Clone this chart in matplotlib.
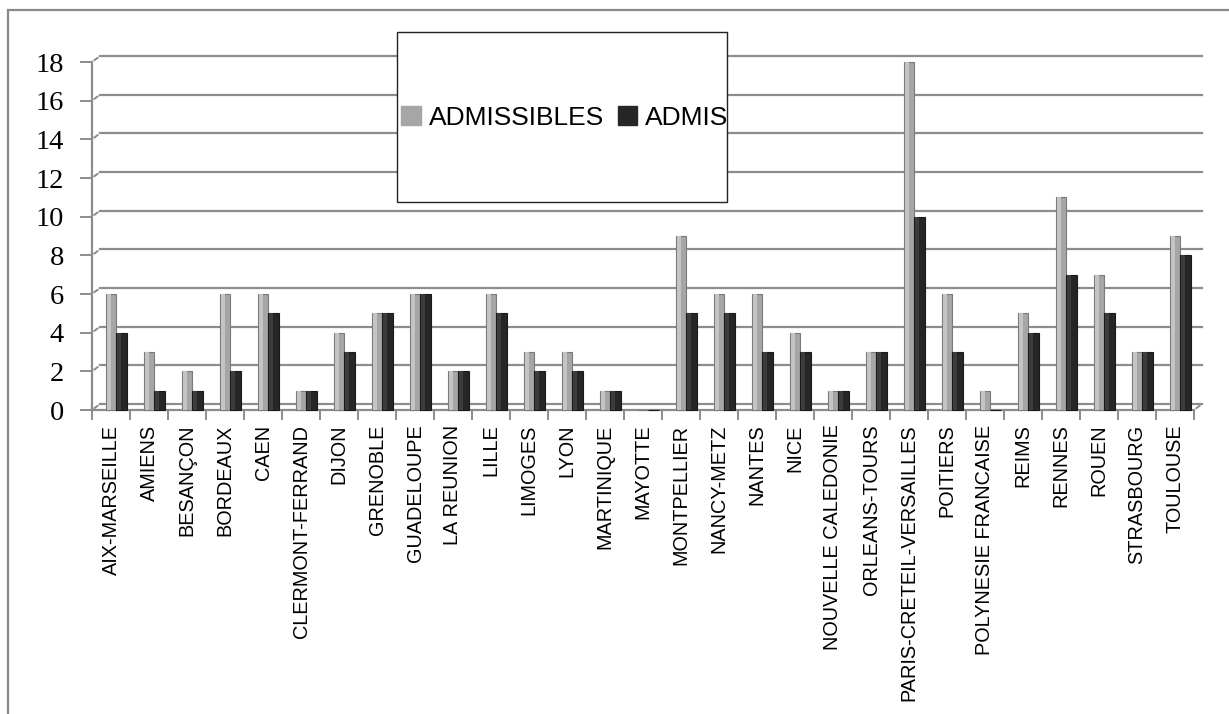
import matplotlib.pyplot as plt
import matplotlib.transforms as mtransforms
from matplotlib.patches import Rectangle

# Académies et nombre de candidats
academies = [
    "AIX-MARSEILLE", "AMIENS", "BESANÇON", "BORDEAUX", "CAEN",
    "CLERMONT-FERRAND", "DIJON", "GRENOBLE", "GUADELOUPE", "LA REUNION",
    "LILLE", "LIMOGES", "LYON", "MARTINIQUE", "MAYOTTE", "MONTPELLIER",
    "NANCY-METZ", "NANTES", "NICE", "NOUVELLE CALEDONIE", "ORLEANS-TOURS",
    "PARIS-CRETEIL-VERSAILLES", "POITIERS", "POLYNESIE FRANCAISE", "REIMS",
    "RENNES", "ROUEN", "STRASBOURG", "TOULOUSE",
]
admissibles = [6, 3, 2, 6, 6, 1, 4, 5, 6, 2, 6, 3, 3, 1, 0, 9, 6, 6, 4, 1,
               3, 18, 6, 1, 5, 11, 7, 3, 9]
admis = [4, 1, 1, 2, 5, 1, 3, 5, 6, 2, 5, 2, 2, 1, 0, 5, 5, 3, 3, 1,
         3, 10, 3, 0, 4, 7, 5, 3, 8]
y_ticks = [0, 2, 4, 6, 8, 10, 12, 14, 16, 18]

W, H = 1229, 714
fig = plt.figure(figsize=(W / 100, H / 100), dpi=100)

# cadre extérieur du graphique
fig.patches.append(Rectangle((8 / W, -0.1), 1.2, (H - 10) / H + 0.1,
                             transform=fig.transFigure, fill=False,
                             edgecolor="#8a8a8a", linewidth=1.6))

# zone de tracé (face avant)
x0, x1, y_bot, y_top = 92, 1194, 410, 62
ax = fig.add_axes([x0 / W, (H - y_bot) / H, (x1 - x0) / W, (y_bot - y_top) / H])
n = len(academies)
ax.set_xlim(0, n)
ax.set_ylim(0, 18)
for s in ax.spines.values():
    s.set_visible(False)

grid_col = "#8c8c8c"
back = mtransforms.offset_copy(ax.transData, fig=fig, x=8, y=6, units="dots")

# quadrillage sur la paroi du fond + raccords obliques
for v in y_ticks:
    ax.plot([0, n], [v, v], color=grid_col, lw=1.6, transform=back,
            clip_on=False, zorder=1)
    ax.annotate("", xy=(0, v), xycoords=back, xytext=(0, v),
                textcoords="data",
                arrowprops=dict(arrowstyle="-", color=grid_col, lw=1.4))

# sol : bord avant et raccord à droite
ax.plot([0, n], [0, 0], color=grid_col, lw=1.6, clip_on=False, zorder=1)
ax.annotate("", xy=(n, 0), xycoords=back, xytext=(n, 0), textcoords="data",
            arrowprops=dict(arrowstyle="-", color=grid_col, lw=1.4))
ax.plot([0, 0], [0, 18], color=grid_col, lw=1.6, clip_on=False, zorder=1)

# barres façon cylindre : fond + reflet
pos = list(range(n))
w1, w2 = 0.27, 0.29
ax.bar([p + 0.365 for p in pos], admissibles, width=w1, align="edge",
       color="#a6a6a6", edgecolor="#7a7a7a", linewidth=0.8, zorder=3,
       clip_on=False)
ax.bar([p + 0.40 for p in pos], admissibles, width=w1 * 0.35, align="edge",
       color="#c4c4c4", linewidth=0, zorder=4, clip_on=False)
ax.bar([p + 0.635 for p in pos], admis, width=w2, align="edge",
       color="#262626", edgecolor="#1a1a1a", linewidth=0.8, zorder=3,
       clip_on=False)
ax.bar([p + 0.67 for p in pos], admis, width=w2 * 0.3, align="edge",
       color="#3c3c3c", linewidth=0, zorder=4, clip_on=False)

# axes et étiquettes
ax.set_yticks(y_ticks)
ax.set_yticklabels([str(v) for v in y_ticks], family="Liberation Serif",
                   fontsize=20.5)
ax.tick_params(axis="y", length=9, width=1.4, color=grid_col, pad=11)
ax.set_xticks(range(n + 1))
ax.set_xticklabels([""] * (n + 1))
ax.set_xticks([p + 0.5 for p in pos], minor=True)
ax.set_xticklabels(academies, minor=True, rotation=90, va="top", ha="center",
                   family="Liberation Sans", fontsize=14.3)
ax.tick_params(axis="x", which="major", length=7, width=1.4, color=grid_col)
ax.tick_params(axis="x", which="minor", length=0, pad=10.5)

# légende encadrée
fig.patches.append(Rectangle((397 / W, (H - 202) / H), 330 / W, 170 / H,
                             transform=fig.transFigure, facecolor="white",
                             edgecolor="#222222", linewidth=1.0, zorder=5))
handles = [Rectangle((0, 0), 1, 1, color="#a6a6a6"),
           Rectangle((0, 0), 1, 1, color="#262626")]
leg = fig.legend(handles, ["ADMISSIBLES", "ADMIS"], ncol=2, frameon=False,
                 loc="center", bbox_to_anchor=(565 / W, (H - 118) / H),
                 prop=dict(family="Liberation Sans", size=19),
                 handlelength=0.75, handleheight=0.75, handletextpad=0.3,
                 columnspacing=0.5)
leg.set_zorder(6)

fig.savefig("out.png", dpi=100)
